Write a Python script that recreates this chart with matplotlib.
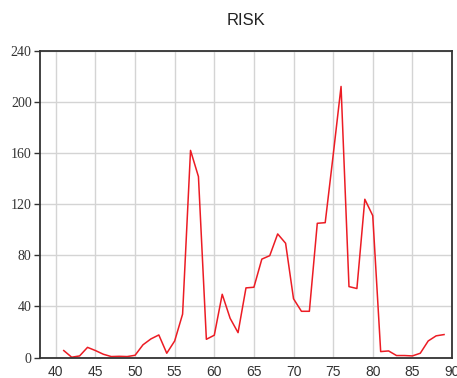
#!/usr/bin/env python3
"""RISK line chart recreation."""

import matplotlib

matplotlib.use("Agg")
import matplotlib.pyplot as plt

# data
ages = list(range(41, 90))
risk = [
    5.5, 0.3, 1.3, 8.0, 5.5, 2.6, 0.8, 1.0, 0.8, 1.8,
    10.0, 14.6, 17.7, 3.4, 13.0, 34.0, 162.0, 141.5, 14.3, 17.5,
    49.5, 30.7, 19.5, 54.5, 55.0, 77.0, 79.7, 96.7, 89.4, 46.0,
    36.2, 36.2, 105.0, 105.5, 158.0, 212.0, 55.5, 54.0, 123.8, 111.0,
    4.7, 5.2, 1.6, 1.6, 1.3, 3.4, 13.0, 17.0, 18.0,
]
x_ticks = list(range(40, 91, 5))
y_ticks = [0, 40, 80, 120, 160, 200, 240]


def main() -> None:
    fig = plt.figure(figsize=(4.57, 3.78), dpi=100)
    ax = fig.add_axes([0.0875, 0.054, 0.9015, 0.812])

    ax.plot(ages, risk, color="#ec1c24", linewidth=1.1)

    ax.set_xlim(38, 90)
    ax.set_ylim(0, 240)
    ax.set_xticks(x_ticks)
    ax.set_yticks(y_ticks)
    ax.grid(True, color="#d4d4d4", linewidth=1.0)
    ax.set_axisbelow(True)

    for spine in ax.spines.values():
        spine.set_color("#333333")
        spine.set_linewidth(1.3)

    ax.tick_params(axis="x", length=0, pad=5, labelsize=10, colors="#333333")
    ax.tick_params(axis="y", length=4, width=1.0, pad=2, labelsize=10, colors="#333333")
    for lab in ax.get_yticklabels():
        lab.set_fontfamily("Liberation Serif")
    for lab in ax.get_xticklabels():
        lab.set_fontfamily("Liberation Sans")

    fig.text(0.538, 0.947, "RISK", ha="center", va="center",
             fontsize=12, family="Liberation Sans", color="#222222")

    fig.savefig("out.png", dpi=100)
    plt.close(fig)


if __name__ == "__main__":
    main()
